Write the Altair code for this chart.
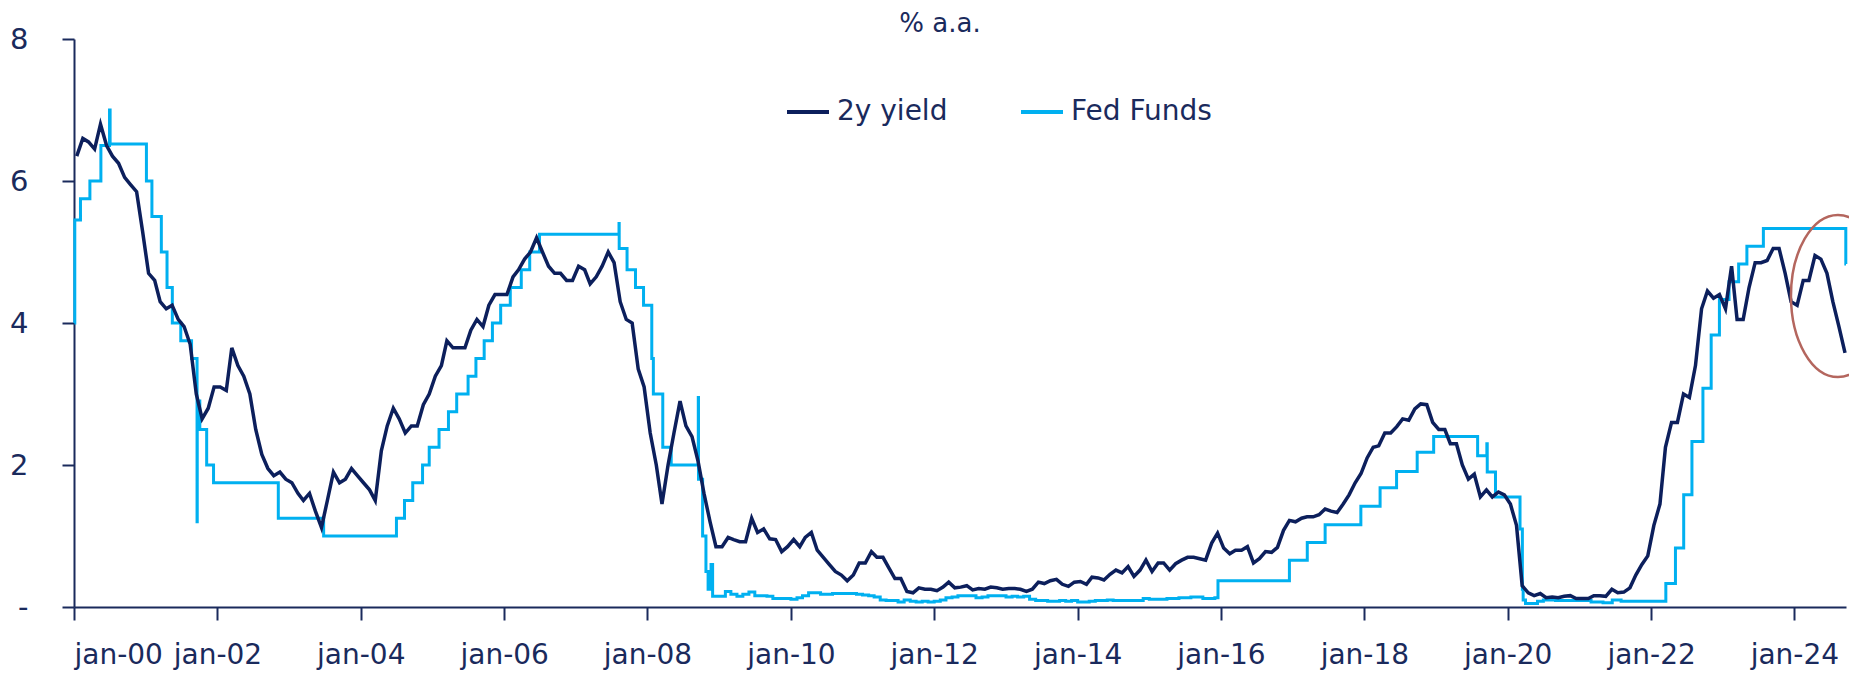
import altair as alt
import pandas as pd

FONT = "DejaVu Sans"
NAVY = "#0c1f5c"
TEXT = "#1a2a5c"
LIGHT = "#00b0f0"
RING = "#b4665e"

# 2-year Treasury yield, monthly readings (Jan-2000 .. Sep-2024), % a.a.
yield_2y = [
    6.35, 6.60, 6.55, 6.45, 6.80, 6.50, 6.35, 6.25, 6.05, 5.95, 5.85, 5.30,
    4.70, 4.60, 4.30, 4.20, 4.25, 4.05, 3.95, 3.70, 3.00, 2.65, 2.80, 3.10,
    3.10, 3.05, 3.65, 3.40, 3.25, 3.00, 2.50, 2.15, 1.95, 1.85, 1.90, 1.80,
    1.75, 1.60, 1.50, 1.60, 1.35, 1.12, 1.50, 1.90, 1.75, 1.80, 1.95, 1.85,
    1.75, 1.65, 1.50, 2.20, 2.55, 2.80, 2.65, 2.45, 2.55, 2.55, 2.85, 3.00,
    3.25, 3.40, 3.75, 3.65, 3.65, 3.65, 3.90, 4.05, 3.95, 4.25, 4.40, 4.40,
    4.40, 4.65, 4.75, 4.90, 5.00, 5.20, 5.00, 4.80, 4.70, 4.70, 4.60, 4.60,
    4.80, 4.75, 4.55, 4.65, 4.80, 5.00, 4.85, 4.30, 4.05, 4.00, 3.35, 3.10,
    2.45, 2.00, 1.45, 2.00, 2.45, 2.90, 2.55, 2.40, 2.05, 1.60, 1.20, 0.85,
    0.85, 0.98, 0.95, 0.92, 0.92, 1.25, 1.05, 1.10, 0.96, 0.95, 0.78, 0.85,
    0.95, 0.85, 0.98, 1.05, 0.80, 0.70, 0.60, 0.50, 0.45, 0.37, 0.45, 0.62,
    0.62, 0.78, 0.70, 0.70, 0.55, 0.40, 0.40, 0.22, 0.20, 0.27, 0.25, 0.25,
    0.23, 0.28, 0.35, 0.27, 0.28, 0.30, 0.24, 0.26, 0.25, 0.28, 0.27, 0.25,
    0.26, 0.26, 0.25, 0.22, 0.25, 0.35, 0.33, 0.37, 0.39, 0.32, 0.29, 0.35,
    0.36, 0.32, 0.42, 0.41, 0.38, 0.46, 0.52, 0.48, 0.57, 0.43, 0.52, 0.66,
    0.50, 0.62, 0.62, 0.52, 0.61, 0.66, 0.70, 0.70, 0.68, 0.66, 0.90, 1.04,
    0.83, 0.75, 0.80, 0.80, 0.85, 0.62, 0.68, 0.78, 0.77, 0.84, 1.08, 1.22,
    1.20, 1.25, 1.27, 1.27, 1.30, 1.38, 1.35, 1.33, 1.45, 1.58, 1.75, 1.88,
    2.10, 2.25, 2.27, 2.45, 2.45, 2.54, 2.65, 2.63, 2.79, 2.86, 2.85, 2.60,
    2.50, 2.50, 2.30, 2.30, 2.00, 1.80, 1.87, 1.55, 1.65, 1.55, 1.62, 1.58,
    1.45, 1.15, 0.30, 0.20, 0.16, 0.19, 0.13, 0.14, 0.13, 0.15, 0.16, 0.12,
    0.12, 0.12, 0.16, 0.16, 0.15, 0.25, 0.20, 0.21, 0.27, 0.45, 0.60, 0.72,
    1.15, 1.45, 2.25, 2.60, 2.60, 3.00, 2.95, 3.40, 4.20, 4.45, 4.35, 4.40,
    4.20, 4.80, 4.05, 4.05, 4.50, 4.85, 4.85, 4.88, 5.05, 5.05, 4.70, 4.30,
    4.25, 4.60, 4.60, 4.95, 4.90, 4.70, 4.30, 3.95, 3.58,
]
yield_dates = pd.date_range("2000-01-01", periods=len(yield_2y), freq="MS") + pd.Timedelta(days=14)

# Fed Funds (effective), level from each change date onwards
ff_early_dates = [
    "2000-01-03", "2000-01-05", "2000-02-03", "2000-03-22", "2000-05-17", "2000-06-30",
    "2000-07-03", "2001-01-04", "2001-02-01", "2001-03-21", "2001-04-19", "2001-05-16",
    "2001-06-28", "2001-08-22", "2001-09-19", "2001-09-20", "2001-10-03", "2001-11-07",
    "2001-12-12", "2002-11-07", "2003-06-26", "2004-07-01", "2004-08-11", "2004-09-22",
    "2004-11-11", "2004-12-15", "2005-02-03", "2005-03-23", "2005-05-04", "2005-07-01",
    "2005-08-10", "2005-09-21", "2005-11-02", "2005-12-14", "2006-02-01", "2006-03-29",
    "2006-05-11", "2006-06-30", "2007-08-09", "2007-08-10", "2007-09-19", "2007-11-01",
    "2007-12-12", "2008-01-23", "2008-01-31", "2008-03-19", "2008-05-01", "2008-09-16",
    "2008-09-17", "2008-10-08", "2008-10-25", "2008-11-05", "2008-11-20", "2008-11-28",
]
ff_early_values = [
    4.00, 5.45, 5.75, 6.00, 6.50, 7.00,
    6.52, 6.00, 5.50, 5.00, 4.50, 4.00,
    3.75, 3.50, 1.20, 2.90, 2.50, 2.00,
    1.75, 1.25, 1.00, 1.25, 1.50, 1.75,
    2.00, 2.25, 2.50, 2.75, 3.00, 3.25,
    3.50, 3.75, 4.00, 4.25, 4.50, 4.75,
    5.00, 5.25, 5.40, 5.05, 4.75, 4.50,
    4.25, 3.50, 3.00, 2.25, 2.00, 2.95,
    1.80, 1.00, 0.50, 0.25, 0.60, 0.15,
]
# near-zero period, monthly (Jan-2009 .. Dec-2015)
ff_zirp_values = [
    0.15, 0.22, 0.18, 0.15, 0.18, 0.21, 0.16, 0.16, 0.15, 0.12, 0.12, 0.12,
    0.11, 0.13, 0.16, 0.20, 0.20, 0.18, 0.18, 0.19, 0.19, 0.19, 0.19, 0.18,
    0.17, 0.16, 0.14, 0.10, 0.09, 0.09, 0.07, 0.10, 0.08, 0.07, 0.08, 0.07,
    0.08, 0.10, 0.13, 0.14, 0.16, 0.16, 0.16, 0.13, 0.14, 0.16, 0.16, 0.16,
    0.14, 0.15, 0.14, 0.15, 0.11, 0.09, 0.09, 0.08, 0.08, 0.09, 0.08, 0.09,
    0.07, 0.07, 0.08, 0.09, 0.09, 0.10, 0.09, 0.09, 0.09, 0.09, 0.09, 0.12,
    0.11, 0.11, 0.11, 0.12, 0.12, 0.13, 0.13, 0.14, 0.14, 0.12, 0.12, 0.13,
]
ff_zirp_dates = pd.date_range("2009-01-01", periods=len(ff_zirp_values), freq="MS")
ff_late_dates = [
    "2015-12-17", "2016-12-15", "2017-03-16", "2017-06-15", "2017-12-14", "2018-03-22",
    "2018-06-14", "2018-09-27", "2018-12-20", "2019-08-01", "2019-09-17", "2019-09-19",
    "2019-10-31", "2020-03-04", "2020-03-16", "2020-03-20", "2020-04-01", "2020-06-01",
    "2020-07-01", "2020-09-01", "2021-03-01", "2021-05-01", "2021-06-17", "2021-08-01",
    "2022-03-17", "2022-05-05", "2022-06-16", "2022-07-28", "2022-09-22", "2022-11-03",
    "2022-12-15", "2023-02-02", "2023-03-23", "2023-05-04", "2023-07-27", "2024-09-19",
    "2024-09-20",
]
ff_late_values = [
    0.37, 0.66, 0.91, 1.16, 1.42, 1.68,
    1.91, 2.18, 2.40, 2.13, 2.30, 1.90,
    1.55, 1.10, 0.25, 0.10, 0.05, 0.08,
    0.10, 0.09, 0.07, 0.06, 0.10, 0.08,
    0.33, 0.83, 1.58, 2.33, 3.08, 3.83,
    4.33, 4.58, 4.83, 5.08, 5.33, 4.83,
    4.83,
]

series_names = ["2y yield", "Fed Funds"]
y_ticks = [0, 2, 4, 6, 8]
x_tick_years = list(range(2000, 2025, 2))

# annotation ring (centre) around the latest moves
ring_date = ["2024-08-10"]
ring_value = [4.38]

df_y = pd.DataFrame({"date": yield_dates, "value": yield_2y, "series": series_names[0]})
ff_dates = pd.to_datetime(ff_early_dates + [d.strftime("%Y-%m-%d") for d in ff_zirp_dates] + ff_late_dates)
df_ff = pd.DataFrame({"date": ff_dates,
                      "value": ff_early_values + ff_zirp_values + ff_late_values,
                      "series": series_names[1]})
df_ring = pd.DataFrame({"date": pd.to_datetime(ring_date), "value": ring_value})

x_enc = alt.X(
    "date:T",
    scale=alt.Scale(domain=[alt.DateTime(year=2000, month=1, date=1),
                            alt.DateTime(year=2024, month=9, date=20)]),
    axis=alt.Axis(
        title=None,
        values=[alt.DateTime(year=y, month=1, date=1) for y in x_tick_years],
        labelExpr="lower(timeFormat(datum.value, '%b-%y'))",
        tickSize=13,
        labelPadding=21,
        labelFontSize=28,
        grid=False,
    ),
)
y_enc = alt.Y(
    "value:Q",
    scale=alt.Scale(domain=[0, 8], nice=False),
    axis=alt.Axis(
        title=None,
        values=y_ticks,
        format="d",
        labelExpr="datum.value == 0 ? '-' : datum.label",
        tickSize=12,
        labelPadding=34,
        labelFontSize=29,
        grid=False,
    ),
)
color_enc = alt.Color(
    "series:N",
    scale=alt.Scale(domain=series_names, range=[NAVY, LIGHT]),
    legend=alt.Legend(
        title=None,
        orient="none",
        legendX=711,
        legendY=50,
        direction="horizontal",
        symbolType="stroke",
        symbolSize=1764,
        symbolStrokeWidth=4,
        labelFont=FONT,
        labelFontSize=28,
        labelColor=TEXT,
        labelOffset=6,
        columnPadding=65,
        padding=0,
    ),
)

ff_line = alt.Chart(df_ff).mark_line(strokeWidth=3, interpolate="step-after").encode(
    x=x_enc, y=y_enc, color=color_enc
)
y_line = alt.Chart(df_y).mark_line(strokeWidth=3.5).encode(
    x=x_enc, y=y_enc, color=color_enc
)
ring = alt.Chart(df_ring).mark_point(
    shape="M 0 -1 A 0.58 1 0 1 1 0 1 A 0.58 1 0 1 1 0 -1 Z",
    size=26244,
    filled=False,
    stroke=RING,
    strokeWidth=2.5,
    opacity=1,
).encode(x="date:T", y="value:Q")

chart = alt.layer(ff_line, y_line, ring).properties(
    width=1772,
    height=568,
    title=alt.TitleParams(
        "% a.a.", font=FONT, fontSize=26, fontWeight="normal", color=TEXT,
        anchor="middle", frame="group", dx=-20, dy=16,
    ),
    padding={"left": 66, "top": 31, "right": 3, "bottom": 63},
    autosize=alt.AutoSizeParams(type="none"),
).configure_view(stroke=None).configure_axis(
    domainColor=TEXT,
    domainWidth=2,
    tickColor=TEXT,
    tickWidth=2,
    labelFont=FONT,
    labelColor=TEXT,
)

chart.save("out.html", embed_options={"renderer": "svg", "actions": False})
